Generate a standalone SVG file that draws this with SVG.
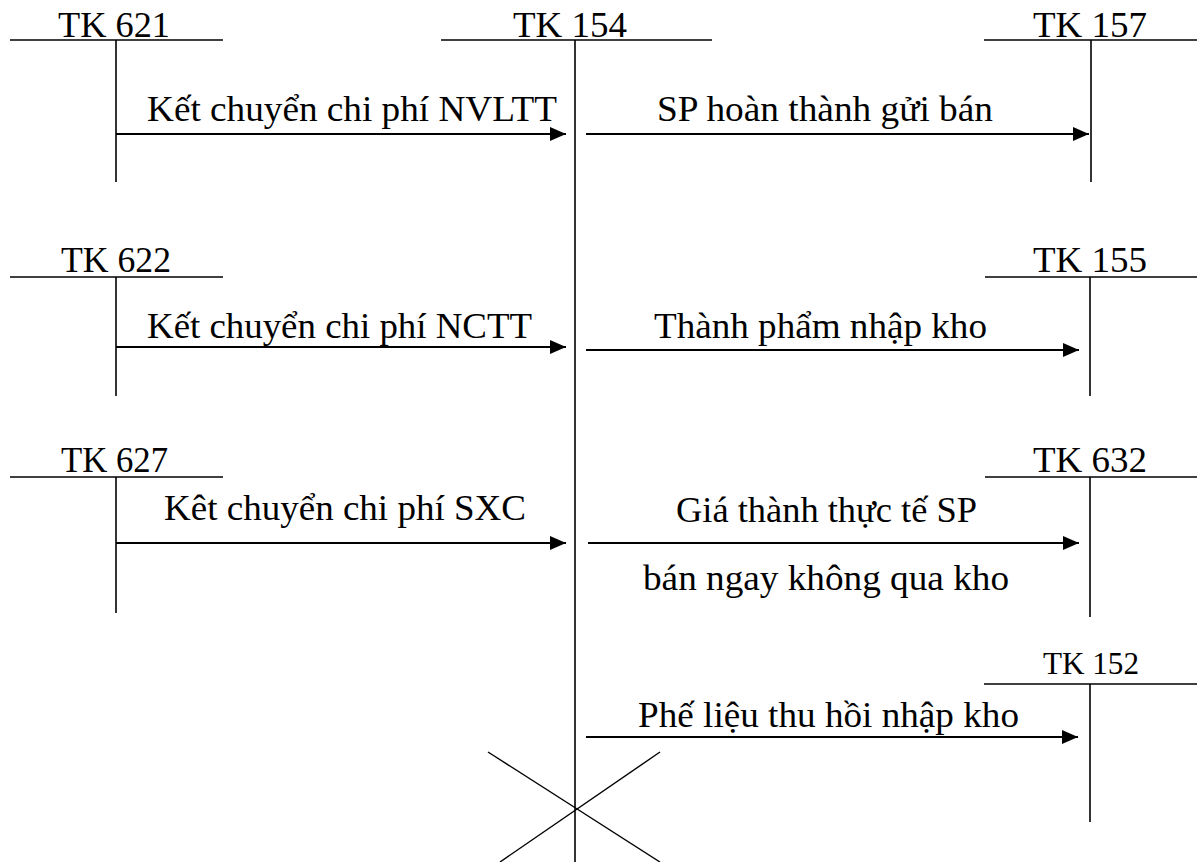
<svg xmlns="http://www.w3.org/2000/svg" width="1197" height="862" viewBox="0 0 1197 862">
  <style>
    .acc { stroke: #000; stroke-width: 1.6; fill: none; }
    .flow { stroke: #000; stroke-width: 2.2; fill: none; marker-end: url(#head); }
    .cross { stroke: #000; stroke-width: 1.4; fill: none; }
    text { font-family: "Liberation Serif", "Times New Roman", serif; font-size: 36px; fill: #000; }
    .small { font-size: 31px; }
  </style>
  <defs>
    <marker id="head" markerUnits="userSpaceOnUse" markerWidth="16" markerHeight="14" refX="16" refY="7" orient="auto">
      <path d="M0,0 L16,7 L0,14 Z" fill="#000"/>
    </marker>
  </defs>
  <rect width="1197" height="862" fill="#fff"/>

  <!-- T-accounts -->
  <g id="tk621">
    <line class="acc" x1="10" y1="40" x2="223" y2="40"/>
    <line class="acc" x1="116" y1="40" x2="116" y2="182"/>
    <text x="58" y="37" textLength="112" lengthAdjust="spacingAndGlyphs">TK 621</text>
  </g>
  <g id="tk154">
    <line class="acc" x1="441" y1="40" x2="712" y2="40"/>
    <line class="acc" x1="575" y1="40" x2="575" y2="862"/>
    <text x="513" y="37" textLength="114" lengthAdjust="spacingAndGlyphs">TK 154</text>
  </g>
  <g id="tk157">
    <line class="acc" x1="984" y1="40" x2="1197" y2="40"/>
    <line class="acc" x1="1091" y1="40" x2="1091" y2="182"/>
    <text x="1033" y="37" textLength="114" lengthAdjust="spacingAndGlyphs">TK 157</text>
  </g>
  <g id="tk622">
    <line class="acc" x1="10" y1="277" x2="223" y2="277"/>
    <line class="acc" x1="116" y1="277" x2="116" y2="396"/>
    <text x="61" y="272" textLength="110" lengthAdjust="spacingAndGlyphs">TK 622</text>
  </g>
  <g id="tk155">
    <line class="acc" x1="985" y1="277" x2="1197" y2="277"/>
    <line class="acc" x1="1090" y1="277" x2="1090" y2="396"/>
    <text x="1033" y="272" textLength="114" lengthAdjust="spacingAndGlyphs">TK 155</text>
  </g>
  <g id="tk627">
    <line class="acc" x1="10" y1="477" x2="223" y2="477"/>
    <line class="acc" x1="116" y1="477" x2="116" y2="613"/>
    <text x="61" y="472" textLength="107" lengthAdjust="spacingAndGlyphs">TK 627</text>
  </g>
  <g id="tk632">
    <line class="acc" x1="985" y1="477" x2="1197" y2="477"/>
    <line class="acc" x1="1090" y1="477" x2="1090" y2="617"/>
    <text x="1033" y="472" textLength="114" lengthAdjust="spacingAndGlyphs">TK 632</text>
  </g>
  <g id="tk152">
    <line class="acc" x1="984" y1="684" x2="1197" y2="684"/>
    <line class="acc" x1="1090" y1="684" x2="1090" y2="822"/>
    <text class="small" x="1043" y="674" textLength="96" lengthAdjust="spacingAndGlyphs">TK 152</text>
  </g>

  <!-- closing cross on TK 154 -->
  <g id="close-mark">
    <line class="cross" x1="488" y1="752" x2="660" y2="862"/>
    <line class="cross" x1="660" y1="752" x2="500" y2="862"/>
  </g>

  <!-- transfer entries -->
  <g id="connectors">
    <line class="flow" x1="116" y1="134" x2="566" y2="134"/>
    <line class="flow" x1="586" y1="134" x2="1089" y2="134"/>
    <line class="flow" x1="116" y1="347" x2="566" y2="347"/>
    <line class="flow" x1="586" y1="350" x2="1079" y2="350"/>
    <line class="flow" x1="116" y1="543" x2="566" y2="543"/>
    <line class="flow" x1="588" y1="543" x2="1079" y2="543"/>
    <line class="flow" x1="586" y1="737" x2="1078" y2="737"/>
  </g>

  <g id="labels">
    <text x="147" y="121" textLength="410" lengthAdjust="spacingAndGlyphs">Kết chuyển chi phí NVLTT</text>
    <text x="657" y="121" textLength="336" lengthAdjust="spacingAndGlyphs">SP hoàn thành gửi bán</text>
    <text x="147" y="338" textLength="385" lengthAdjust="spacingAndGlyphs">Kết chuyển chi phí NCTT</text>
    <text x="654" y="338" textLength="333" lengthAdjust="spacingAndGlyphs">Thành phẩm nhập kho</text>
    <text x="164" y="520" textLength="362" lengthAdjust="spacingAndGlyphs">Kêt chuyển chi phí SXC</text>
    <text x="676" y="522" textLength="301" lengthAdjust="spacingAndGlyphs">Giá thành thực tế SP</text>
    <text x="643" y="590" textLength="366" lengthAdjust="spacingAndGlyphs">bán ngay không qua kho</text>
    <text x="638" y="727" textLength="381" lengthAdjust="spacingAndGlyphs">Phế liệu thu hồi nhập kho</text>
  </g>
</svg>
